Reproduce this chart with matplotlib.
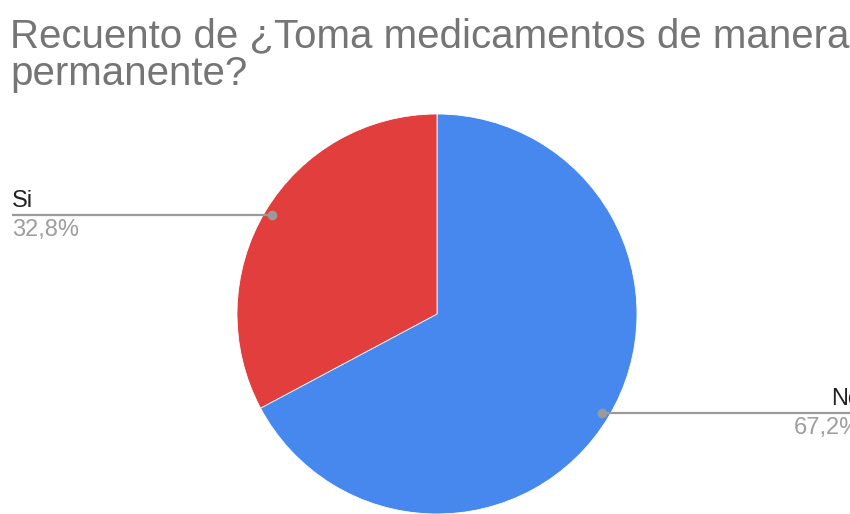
import numpy as np
import matplotlib.pyplot as plt

# data
labels = ['No', 'Si']
values = [67.2, 32.8]
colors = ['#4688EE', '#E33E3E']

W, H = 850, 514
fig = plt.figure(figsize=(W / 100, H / 100), dpi=100)
ax = fig.add_axes([0, 0, 1, 1])

# pie, drawn in pixel units (y measured from the bottom)
cx, cy, r = 437, H - 314, 200
wedges, _ = ax.pie(values, colors=colors, startangle=90, counterclock=False,
                   center=(cx, cy), radius=r,
                   wedgeprops=dict(linewidth=0.6, edgecolor='white'))

ax.set_xlim(0, W)
ax.set_ylim(0, H)
ax.set_aspect('auto')
ax.axis('off')

plt.rcParams['font.family'] = ['Liberation Sans', 'DejaVu Sans']

# title
fig.text(10 / W, 1 - 47 / H, 'Recuento de ¿Toma medicamentos de manera',
         fontsize=29, color='#757575', va='baseline', ha='left')
fig.text(10 / W, 1 - 85 / H, 'permanente?',
         fontsize=29, color='#757575', va='baseline', ha='left')

# leader lines and labels
label_x = {'Si': 12, 'No': 861}
for w, lab, v in zip(wedges, labels, values):
    mid = np.deg2rad((w.theta1 + w.theta2) / 2)
    dx, dy = cx + 0.96 * r * np.cos(mid), cy + 0.96 * r * np.sin(mid)
    pct = f'{v:.1f}'.replace('.', ',') + '%'
    lx = label_x[lab]
    ax.plot([dx, lx], [dy, dy], color='#9A9A9A', lw=1.6, solid_capstyle='butt', zorder=3)
    ax.plot([dx], [dy], 'o', ms=6, color='#9A9A9A', zorder=4)
    ha = 'left' if lx < cx else 'right'
    ax.text(lx, dy + 8, lab, fontsize=17, color='#222222', ha=ha, va='baseline')
    ax.text(lx, dy - 4, pct, fontsize=17, color='#9E9E9E', ha=ha, va='top')

fig.savefig('out.png', dpi=100)
